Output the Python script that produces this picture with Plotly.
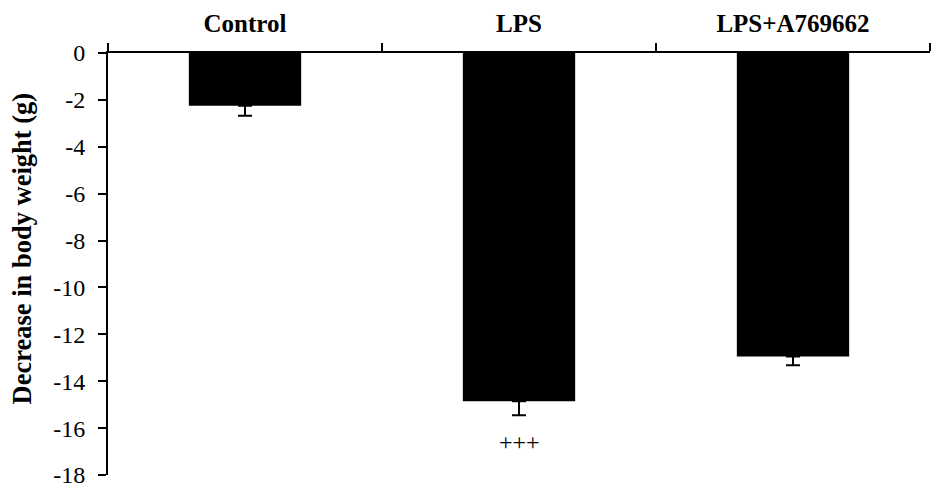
import plotly.graph_objects as go

categories = ["Control", "LPS", "LPS+A769662"]
category_labels = ["<b>Control</b>", "<b>LPS</b>", "<b>LPS+A769662</b>"]
values = [-2.25, -14.85, -12.95]
errors = [0.43, 0.6, 0.37]
tick_vals = [0, -2, -4, -6, -8, -10, -12, -14, -16, -18]
tick_text = ["0", "-2", "-4", "-6", "-8", "-10", "-12", "-14", "-16", "-18"]
y_title = "<b>Decrease in body weight (g)</b>"
annotation_text = "+++"
annotation_y = -16.6

fig = go.Figure()
fig.add_trace(go.Bar(
    x=categories, y=values, width=0.41,
    marker=dict(color="black", line=dict(width=0)),
    error_y=dict(type="data", symmetric=False, array=[0]*len(errors), arrayminus=errors,
                 color="black", thickness=2, width=7),
))
fig.add_annotation(x=categories[1], y=annotation_y, text=annotation_text, showarrow=False,
                   font=dict(family="Liberation Serif", size=24, color="black"))
fig.add_annotation(x=-0.1046, y=0.537, xref="paper", yref="paper", text=y_title,
                   textangle=-90, showarrow=False, xanchor="center", yanchor="middle",
                   font=dict(family="Liberation Serif", size=26.5, color="black"))

fig.update_layout(
    width=937, height=488,
    margin=dict(l=100, r=15, t=45, b=21),
    plot_bgcolor="white", paper_bgcolor="white",
    showlegend=False,
    font=dict(family="Liberation Serif", color="black"),
    xaxis=dict(side="top", showline=True, linecolor="black", linewidth=2,
               tickvals=categories, ticktext=category_labels, automargin=False,
               ticks="outside", tickson="boundaries", ticklen=8, tickwidth=2, tickcolor="black",
               ticklabelstandoff=9,
               tickfont=dict(size=25, family="Liberation Serif"), showgrid=False),
    yaxis=dict(range=[-18, 0], tickvals=tick_vals, ticktext=tick_text, automargin=False,
               showline=True, linecolor="black", linewidth=2,
               ticks="outside", ticklen=8, tickwidth=2, tickcolor="black",
               ticklabelstandoff=8,
               tickfont=dict(size=24), showgrid=False, zeroline=False),
)
fig.write_html("out.html")
